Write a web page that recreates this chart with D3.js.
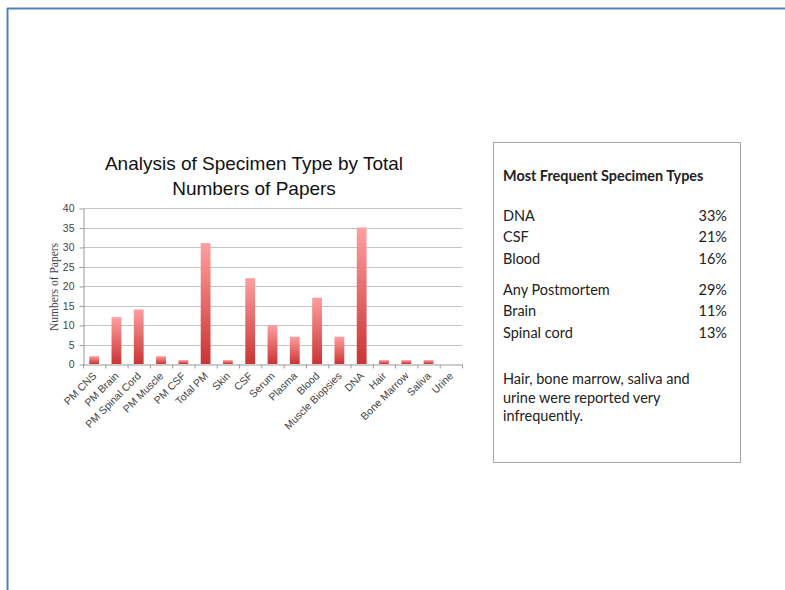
<!DOCTYPE html>
<html>
<head>
<meta charset="utf-8">
<script src="https://cdn.jsdelivr.net/npm/d3@7"></script>
<style>
  body { margin: 0; background: #fff; }
  svg { display: block; }
  .grid-line { stroke: #c4c4c4; stroke-width: 1; }
  .axis path, .axis line { stroke: #9a9a9a; }
  .axis text { font-family: "Liberation Sans", Arial, sans-serif; font-size: 10.5px; fill: #444; }
  .box-text { font-family: Lato, "Open Sans", sans-serif; font-size: 14.5px; fill: #222; }
</style>
</head>
<body>
<div id="chart"></div>
<script>
// chart data
const categories = ['PM CNS', 'PM Brain', 'PM Spinal Cord', 'PM Muscle', 'PM CSF', 'Total PM', 'Skin', 'CSF',
  'Serum', 'Plasma', 'Blood', 'Muscle Biopsies', 'DNA', 'Hair', 'Bone Marrow', 'Saliva', 'Urine'];
const papers = [2, 12, 14, 2, 1, 31, 1, 22, 10, 7, 17, 7, 35, 1, 1, 1, 0];
const yTicks = [0, 5, 10, 15, 20, 25, 30, 35, 40];

// side panel data
const topTypes = ['DNA', 'CSF', 'Blood'];
const topShares = ['33%', '21%', '16%'];
const pmTypes = ['Any Postmortem', 'Brain', 'Spinal cord'];
const pmShares = ['29%', '11%', '13%'];
const noteLines = ['Hair, bone marrow, saliva and', 'urine were reported very', 'infrequently.'];

const width = 785;
const height = 590;
const plot = { left: 83, right: 462, top: 208, bottom: 364 };

const svg = d3.select('#chart')
  .append('svg')
  .attr('width', width)
  .attr('height', height);

// page frame (blue lines top and left)
svg.append('line')
  .attr('x1', 7).attr('y1', 8.5).attr('x2', width).attr('y2', 8.5)
  .attr('stroke', '#4f81bd').attr('stroke-width', 2);
svg.append('line')
  .attr('x1', 7.5).attr('y1', 8).attr('x2', 7.5).attr('y2', height)
  .attr('stroke', '#4f81bd').attr('stroke-width', 2);

// gradient for bars
const grad = svg.append('defs').append('linearGradient')
  .attr('id', 'bar-gradient')
  .attr('x1', 0).attr('y1', 0).attr('x2', 0).attr('y2', 1);
grad.append('stop').attr('offset', '0%').attr('stop-color', '#ff9f9f');
grad.append('stop').attr('offset', '100%').attr('stop-color', '#cb3333');

const xScale = d3.scaleBand()
  .domain(categories)
  .range([plot.left, plot.right]);

const yScale = d3.scaleLinear()
  .domain([0, 40])
  .range([plot.bottom, plot.top]);

// title
svg.append('text')
  .attr('text-anchor', 'middle')
  .style('font-family', '"Liberation Sans", Arial, sans-serif')
  .style('font-size', '19px')
  .style('fill', '#111')
  .selectAll('tspan')
  .data(['Analysis of Specimen Type by Total', 'Numbers of Papers'])
  .enter()
  .append('tspan')
  .attr('x', 254)
  .attr('y', (d, i) => 170 + i * 25)
  .text(d => d);

// grid lines
svg.append('g')
  .selectAll('line')
  .data(yTicks.filter(t => t > 0))
  .enter()
  .append('line')
  .classed('grid-line', true)
  .attr('x1', plot.left)
  .attr('x2', plot.right)
  .attr('y1', d => Math.round(yScale(d)) + 0.5)
  .attr('y2', d => Math.round(yScale(d)) + 0.5);

// bars
svg.append('g')
  .selectAll('rect')
  .data(papers)
  .enter()
  .append('rect')
  .attr('x', (d, i) => xScale(categories[i]) + xScale.bandwidth() * 0.28)
  .attr('width', xScale.bandwidth() * 0.44)
  .attr('y', d => yScale(d))
  .attr('height', d => yScale(0) - yScale(d))
  .attr('fill', 'url(#bar-gradient)');

// y axis
svg.append('g')
  .classed('axis', true)
  .attr('transform', 'translate(' + (plot.left + 0.5) + ',0.5)')
  .call(d3.axisLeft(yScale).tickValues(yTicks).tickSize(4).tickPadding(5).tickSizeOuter(0));

// x axis with ticks at category boundaries
const xAxis = svg.append('g')
  .classed('axis', true)
  .attr('transform', 'translate(0,' + (Math.round(plot.bottom) + 0.5) + ')')
  .call(d3.axisBottom(xScale).tickSize(0));

xAxis.selectAll('.tick text')
  .attr('text-anchor', 'end')
  .attr('x', 0)
  .attr('y', 0)
  .attr('dy', 0)
  .attr('transform', 'translate(3,12) rotate(-45)');

xAxis.selectAll('.boundary')
  .data(d3.range(categories.length + 1))
  .enter()
  .append('line')
  .classed('boundary', true)
  .attr('x1', i => plot.left + i * xScale.step() + 0.5)
  .attr('x2', i => plot.left + i * xScale.step() + 0.5)
  .attr('y1', 0)
  .attr('y2', 4)
  .attr('stroke', '#9a9a9a');

// y axis label
svg.append('text')
  .attr('transform', 'translate(58,287) rotate(-90)')
  .attr('text-anchor', 'middle')
  .style('font-family', '"Liberation Serif", "Times New Roman", serif')
  .style('font-size', '11.5px')
  .style('fill', '#444')
  .text('Numbers of Papers');

// side panel
const box = svg.append('g');
box.append('rect')
  .attr('x', 493.5).attr('y', 142.5)
  .attr('width', 247).attr('height', 320)
  .attr('fill', '#fff')
  .attr('stroke', '#a6a6a6');

box.append('text')
  .classed('box-text', true)
  .attr('x', 503).attr('y', 181)
  .style('font-weight', 'bold')
  .style('font-size', '14.4px')
  .text('Most Frequent Specimen Types');

const rowY1 = [221, 242, 264];
const rowY2 = [295, 316, 338];

function addRows(labels, shares, ys) {
  box.selectAll(null)
    .data(labels)
    .enter()
    .append('text')
    .classed('box-text', true)
    .attr('x', 503)
    .attr('y', (d, i) => ys[i])
    .text(d => d);
  box.selectAll(null)
    .data(shares)
    .enter()
    .append('text')
    .classed('box-text', true)
    .attr('x', 727)
    .attr('y', (d, i) => ys[i])
    .attr('text-anchor', 'end')
    .text(d => d);
}
addRows(topTypes, topShares, rowY1);
addRows(pmTypes, pmShares, rowY2);

box.selectAll(null)
  .data(noteLines)
  .enter()
  .append('text')
  .classed('box-text', true)
  .attr('x', 503)
  .attr('y', (d, i) => 384 + i * 18.5)
  .text(d => d);
</script>
</body>
</html>
